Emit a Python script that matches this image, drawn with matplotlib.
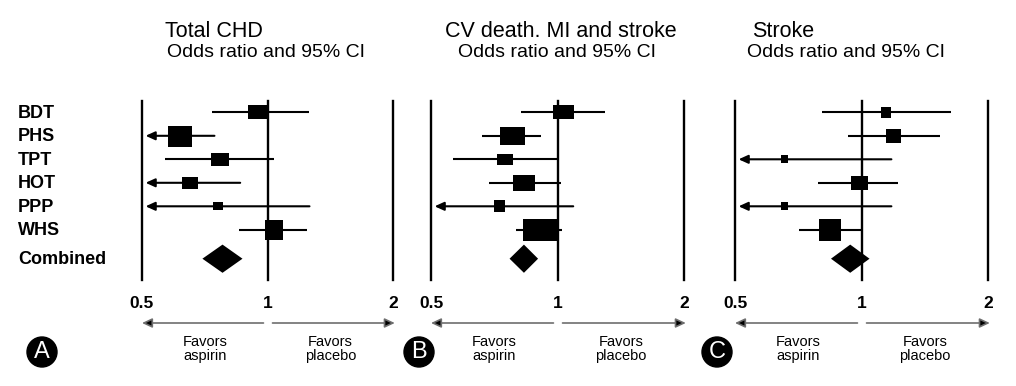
import numpy as np
import matplotlib
matplotlib.use('Agg')
import matplotlib.pyplot as plt
from matplotlib.transforms import blended_transform_factory, offset_copy
from matplotlib.patches import Ellipse

plt.rcParams['font.family'] = ['Liberation Sans', 'DejaVu Sans']

# ---------------- data ----------------
studies = ['BDT', 'PHS', 'TPT', 'HOT', 'PPP', 'WHS']
combined_label = 'Combined'
titles = ['Total CHD', 'CV death. MI and stroke', 'Stroke']
subtitle = 'Odds ratio and 95% CI'
panel_letters = ['A', 'B', 'C']
tick_values = [0.5, 1, 2]
tick_labels = ['0.5', '1', '2']
favors_left = 'Favors\naspirin'
favors_right = 'Favors\nplacebo'

# Panel A: Total CHD (odds ratio, lower CI, upper CI); lower < 0.5 means truncated (arrow)
or_A = [0.948, 0.617, 0.769, 0.653, 0.762, 1.036]
lo_A = [0.737, 0.45, 0.568, 0.45, 0.40, 0.853]
hi_A = [1.261, 0.746, 1.039, 0.860, 1.261, 1.245]
box_w_A = [20, 24, 18, 16, 10, 19]
box_h_A = [15, 21, 13, 12, 9, 20]
comb_A = [0.780, 0.698, 0.871]   # estimate, lower, upper

# Panel B: CV death, MI and stroke
or_B = [1.033, 0.779, 0.749, 0.833, 0.724, 0.911]
lo_B = [0.817, 0.662, 0.563, 0.686, 0.40, 0.795]
hi_B = [1.296, 0.915, 0.998, 1.017, 1.090, 1.026]
box_w_B = [21, 25, 16, 23, 11, 35]
box_h_B = [14, 18, 11, 17, 12, 22]
comb_B = [0.832, 0.769, 0.899]

# Panel C: Stroke
or_C = [1.145, 1.189, 0.653, 0.986, 0.653, 0.841]
lo_C = [0.806, 0.930, 0.35, 0.788, 0.35, 0.710]
hi_C = [1.635, 1.536, 1.178, 1.222, 1.178, 1.002]
box_w_C = [10, 15, 7, 17, 7, 23]
box_h_C = [11, 14, 8, 14, 8, 23]
comb_C = [0.940, 0.846, 1.045]

# ---------------- layout ----------------
W, H = 1016, 386
fig = plt.figure(figsize=(W / 100, H / 100), dpi=100)

row_pos = [0, 1, 2, 3, 4, 5, 6.23]
row_px0, row_step = 112.3, 23.5
top_px, bot_px = 101, 280
y_top = (top_px - row_px0) / row_step
y_bot = (bot_px - row_px0) / row_step

panel_px = [(142, 393), (431, 684), (735, 988)]
title_px = [165, 445, 752]
sub_px = [167, 458, 747]
letter_px = [42, 419, 717]

panels = [
    (or_A, lo_A, hi_A, box_w_A, box_h_A, comb_A),
    (or_B, lo_B, hi_B, box_w_B, box_h_B, comb_B),
    (or_C, lo_C, hi_C, box_w_C, box_h_C, comb_C),
]


def fy(px):
    return 1 - px / H


for k, (est, lo, hi, bw, bh, comb) in enumerate(panels):
    x0, x1 = panel_px[k]
    ax = fig.add_axes([x0 / W, fy(bot_px), (x1 - x0) / W, (bot_px - top_px) / H])
    ax.set_xscale('log', base=2)
    xmin, xmax = tick_values[0], tick_values[-1]
    ax.set_xlim(xmin, xmax)
    ax.set_ylim(y_bot, y_top)
    ax.axis('off')

    for v in tick_values:
        ax.axvline(v, color='k', lw=1.7, clip_on=False, zorder=1)

    for i in range(len(studies)):
        y = row_pos[i]
        if lo[i] < xmin:
            ax.annotate('', xy=(xmin * 1.02, y), xytext=(hi[i], y),
                        arrowprops=dict(arrowstyle='-|>,head_length=0.55,head_width=0.25',
                                        lw=1.5, color='k', shrinkA=0, shrinkB=0,
                                        mutation_scale=10), zorder=2)
        else:
            ax.plot([lo[i], hi[i]], [y, y], color='k', lw=1.5,
                    solid_capstyle='butt', zorder=2)
        w, h = bw[i], bh[i]
        m = max(w, h)
        verts = [(-w / m, -h / m), (w / m, -h / m), (w / m, h / m),
                 (-w / m, h / m), (-w / m, -h / m)]
        ax.plot([est[i]], [y], marker=verts, ms=m * 0.72, color='k',
                mew=0, ls='none', zorder=3)

    c, l, r = comb
    yc = row_pos[-1]
    dh = 0.6
    ax.fill([l, c, r, c], [yc, yc - dh, yc, yc + dh], color='k', lw=0, zorder=3)

    # row labels (only on first panel)
    if k == 0:
        tlab = offset_copy(blended_transform_factory(fig.transFigure, ax.transData),
                           fig=fig, x=0, y=-5.5, units='dots')
        for lab, y in zip(studies + [combined_label], row_pos):
            ax.text(18 / W, y, lab, transform=tlab, ha='left', va='baseline',
                    fontsize=13, fontweight='bold')

    # bottom axis labels, arrows and "Favors" captions
    tb = blended_transform_factory(ax.transData, fig.transFigure)
    for v, t in zip(tick_values, tick_labels):
        ax.text(v, fy(303), t, transform=tb, ha='center', va='center',
                fontsize=12.5, fontweight='bold', clip_on=False)
    ya = fy(323)
    ax.annotate('', xy=(xmin, ya), xytext=(0.978, ya), xycoords=tb, textcoords=tb,
                arrowprops=dict(arrowstyle='-|>,head_length=0.6,head_width=0.28',
                                lw=1.2, ec='#6e6e6e', fc='k', shrinkA=0, shrinkB=0,
                                mutation_scale=10), annotation_clip=False)
    ax.annotate('', xy=(xmax * 1.01, ya), xytext=(1.028, ya), xycoords=tb, textcoords=tb,
                arrowprops=dict(arrowstyle='-|>,head_length=0.6,head_width=0.28',
                                lw=1.2, ec='#6e6e6e', fc='k', shrinkA=0, shrinkB=0,
                                mutation_scale=10), annotation_clip=False)
    ax.text(np.sqrt(xmin * 1), fy(349), favors_left, transform=tb, ha='center',
            va='center', fontsize=10.5, linespacing=1.05)
    ax.text(np.sqrt(1 * xmax), fy(349), favors_right, transform=tb, ha='center',
            va='center', fontsize=10.5, linespacing=1.05)

    # titles
    fig.text(title_px[k] / W, fy(36.7), titles[k], ha='left', va='baseline', fontsize=15.5)
    fig.text(sub_px[k] / W, fy(57), subtitle, ha='left', va='baseline', fontsize=14)

    # panel letter
    cx, cy = letter_px[k] / W, fy(352)
    fig.add_artist(Ellipse((cx, cy), 30 / W, 30 / H, transform=fig.transFigure,
                           color='k'))
    fig.text(cx, cy, panel_letters[k], color='white', ha='center', va='center',
             fontsize=17)

fig.savefig('out.png', dpi=100)
